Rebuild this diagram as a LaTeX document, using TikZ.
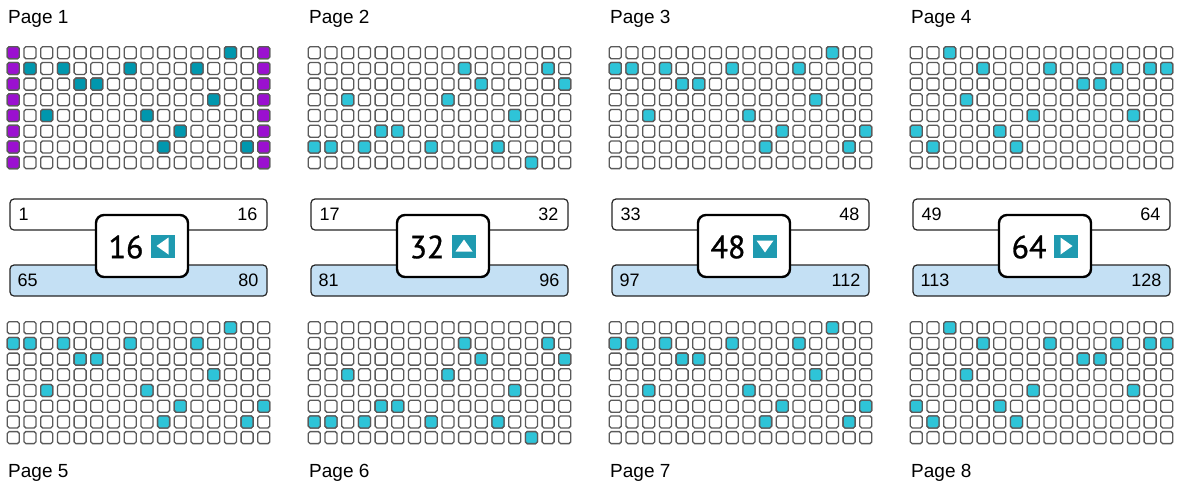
\documentclass[tikz,border=0pt]{standalone}
\usepackage{fontspec}
\setmainfont{Liberation Sans}
\newfontfamily\bignum[FakeBold=0.9]{PT Sans}
\usetikzlibrary{calc,positioning}
\definecolor{cellline}{HTML}{5A5A5A}
\definecolor{hitcyan}{HTML}{2EC4D8}
\definecolor{hitteal}{HTML}{0097AE}
\definecolor{edgepurple}{HTML}{9B10D0}
\definecolor{rangeblue}{HTML}{C4E0F4}
\definecolor{arrowteal}{HTML}{1F9AB0}

\tikzset{
  cell/.style={draw=cellline, line width=1.3pt, rounded corners=1.8pt, fill=white},
  rangebox/.style={draw=black!85, line width=1.2pt, rounded corners=4pt,
    minimum width=257pt, minimum height=31pt, inner sep=0pt},
  countbox/.style={draw=black, line width=2.4pt, rounded corners=8pt, fill=white,
    minimum width=92pt, minimum height=62pt, inner sep=0pt},
  numtext/.style={font=\fontsize{18}{20}\selectfont, inner sep=0pt},
  pagelabel/.style={font=\fontsize{19}{21}\selectfont, anchor=west, inner sep=0pt},
  arrowkey/.style={fill=arrowteal, minimum width=24pt, minimum height=23pt, inner sep=0pt},
}

% lit cells, col/row
\newcommand{\litA}{13/0,1/1,3/1,7/1,11/1,4/2,5/2,12/3,2/4,8/4,10/5,9/6,14/6}
\newcommand{\litB}{9/1,14/1,10/2,15/2,2/3,8/3,12/4,4/5,5/5,0/6,1/6,3/6,7/6,11/6,13/7}
\newcommand{\litC}{13/0,0/1,1/1,3/1,7/1,11/1,4/2,5/2,12/3,2/4,8/4,10/5,15/5,9/6,14/6}
\newcommand{\litD}{2/0,4/1,8/1,12/1,14/1,15/1,10/2,11/2,3/3,7/4,13/4,0/5,5/5,1/6,6/6}

\newcommand{\cellgrid}[4]{% x offset, y of first row, colour, lit cells
  \foreach \c in {0,...,15}
    \foreach \r in {0,...,7}
      \draw[cell] ({#1+7.3+16.7*\c},{#2-6+15.7*\r}) rectangle ++(12,12);
  \foreach \c/\r in #4
    \draw[cell, fill=#3] ({#1+7.3+16.7*\c},{#2-6+15.7*\r}) rectangle ++(12,12);
}

\begin{document}
\begin{tikzpicture}[x=1pt, y=-1pt]
  \fill[white] (0,0) rectangle (1177,488);
  \useasboundingbox (0,0) rectangle (1177,488);

  % page titles
  \foreach \i in {0,...,3}{
    \pgfmathtruncatemacro{\up}{\i+1}
    \pgfmathtruncatemacro{\dn}{\i+5}
    \node[pagelabel] (title\up) at ({8+301*\i},18.5) {Page \up};
    \node[pagelabel] (title\dn) at ({8+301*\i},472.5) {Page \dn};
  }

  % top grids
  \cellgrid{0}{52.7}{hitteal}{\litA}
  \foreach \r in {0,...,7}{
    \draw[cell, fill=edgepurple] ({7.3},{52.7-6+15.7*\r}) rectangle ++(12,12);
    \draw[cell, fill=edgepurple] ({7.3+16.7*15},{52.7-6+15.7*\r}) rectangle ++(12,12);
  }
  \cellgrid{301}{52.7}{hitcyan}{\litB}
  \cellgrid{602}{52.7}{hitcyan}{\litC}
  \cellgrid{903}{52.7}{hitcyan}{\litD}

  % bottom grids
  \cellgrid{0}{327.7}{hitcyan}{\litC}
  \cellgrid{301}{327.7}{hitcyan}{\litB}
  \cellgrid{602}{327.7}{hitcyan}{\litC}
  \cellgrid{903}{327.7}{hitcyan}{\litD}

  % ranges and counters
  \foreach \i/\ta/\tb/\ba/\bb/\n/\ang in
      {0/1/16/65/80/16/180, 1/17/32/81/96/32/270,
       2/33/48/97/112/48/90, 3/49/64/113/128/64/0}{
    \node[rangebox, fill=white] (top\i) at ({138.5+301*\i},214.5) {};
    \node[rangebox, fill=rangeblue] (bot\i) at ({138.5+301*\i},280.5) {};
    \node[numtext, anchor=west] (topfirst\i) at ([xshift=9pt]top\i.west) {\ta};
    \node[numtext, anchor=east] (toplast\i) at ([xshift=-10pt]top\i.east) {\tb};
    \node[numtext, anchor=west] (botfirst\i) at ([xshift=8pt]bot\i.west) {\ba};
    \node[numtext, anchor=east] (botlast\i) at ([xshift=-9pt]bot\i.east) {\bb};

    \node[countbox] (count\i) at ({142+301*\i},246) {};
    \node[font=\bignum\fontsize{32}{33}\selectfont, inner sep=0pt]
      (countnum\i) at ([xshift=-16pt, yshift=-1pt]count\i.center) {\n};
    \node[arrowkey] (key\i) at ([xshift=21pt]count\i.center) {};
    \fill[white] ($(key\i)+(\ang:6.5)$)
      -- ($(key\i)+(\ang+180:5.5)+(\ang+90:8.5)$)
      -- ($(key\i)+(\ang+180:5.5)+(\ang-90:8.5)$) -- cycle;
  }
\end{tikzpicture}
\end{document}
